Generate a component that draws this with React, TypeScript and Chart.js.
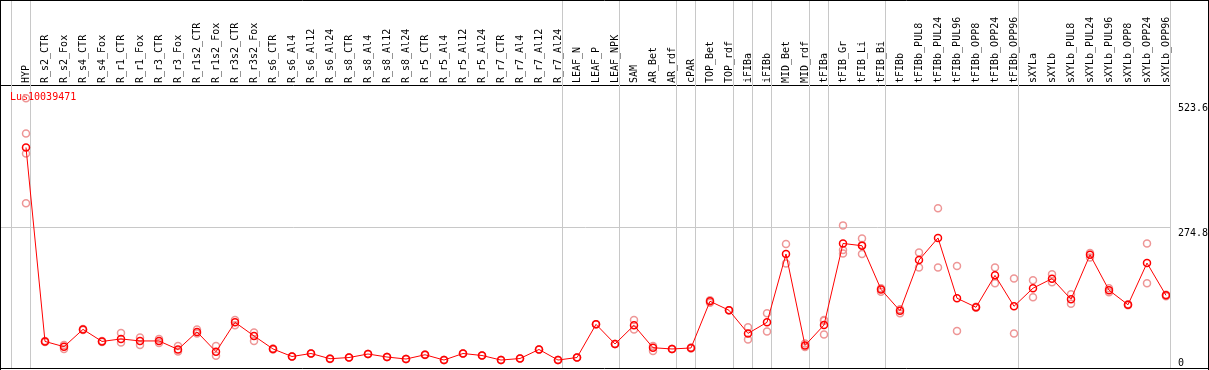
import React, { useEffect, useRef } from "react";
import { Chart, registerables } from "chart.js";

Chart.register(...registerables);

const chartTitle = "Lus10039471";

const categories = [
  "HYP", "R_s2_CTR", "R_s2_Fox", "R_s4_CTR", "R_s4_Fox", "R_r1_CTR", "R_r1_Fox", "R_r3_CTR", "R_r3_Fox",
  "R_r1s2_CTR", "R_r1s2_Fox", "R_r3s2_CTR", "R_r3s2_Fox", "R_s6_CTR", "R_s6_Al4", "R_s6_Al12", "R_s6_Al24",
  "R_s8_CTR", "R_s8_Al4", "R_s8_Al12", "R_s8_Al24", "R_r5_CTR", "R_r5_Al4", "R_r5_Al12", "R_r5_Al24",
  "R_r7_CTR", "R_r7_Al4", "R_r7_Al12", "R_r7_Al24", "LEAF_N", "LEAF_P", "LEAF_NPK", "SAM", "AR_Bet", "AR_rdf",
  "cPAR", "TOP_Bet", "TOP_rdf", "iFIBa", "iFIBb", "MID_Bet", "MID_rdf", "tFIBa", "tFIB_Gr", "tFIB_Li", "tFIB_Bi",
  "tFIBb", "tFIBb_PUL8", "tFIBb_PUL24", "tFIBb_PUL96", "tFIBb_OPP8", "tFIBb_OPP24", "tFIBb_OPP96",
  "sXYLa", "sXYLb", "sXYLb_PUL8", "sXYLb_PUL24", "sXYLb_PUL96", "sXYLb_OPP8", "sXYLb_OPP24", "sXYLb_OPP96",
];

const meanValues = [
  435, 49, 38.5, 73, 49, 54, 50, 50, 33, 68,
  28.5, 87, 60, 34, 19, 25, 14.6, 17, 24, 18,
  14, 22.5, 12, 25, 21, 12, 15, 33, 12, 17,
  83, 44, 81, 36.5, 34, 36, 129, 111, 65, 87,
  223, 41, 81.6, 244, 239.5, 152.6, 110, 211, 255, 135,
  117, 180.5, 119, 155, 174, 133, 221.6, 151, 122, 205, 140.7,
];

const replicate1 = [
  533, 48, 42, 72, 48, 66, 57, 54, 40, 73,
  40, 91.5, 67, 33, 19, 25, 15, 17, 24, 18,
  14, 22, 12, 25, 21, 12, 15, 33, 12, 17,
  83, 44, 91.5, 40, 34, 37, 131, 111, 77, 105,
  243, 45, 91.5, 280, 254, 148, 105, 226, 314, 199,
  116, 196, 174.5, 170.6, 182.5, 143, 225, 155, 121, 244, 142,
];

const replicate2 = [
  463, 50, 34, 74, 50, 47, 42, 46, 29, 65,
  20.6, 81, 50, 35, 19, 25, 14, 17, 24, 18,
  14, 23, 12, 25, 21, 12, 15, 33, 12, 17,
  83, 44, 73, 30, 34, 35, 126, 111, 53, 69,
  204, 38, 63, 231, 223, 155, 113, 196, 196, 70,
  118, 164.6, 65, 137, 167, 124, 216, 147, 123, 165, 139,
];

const replicate3 = [
  423, null, null, null, null, null, null, null, null, null,
  null, null, null, null, null, null, null, null, null, null,
  null, null, null, null, null, null, null, null, null, null,
  null, null, null, null, null, null, null, null, null, null,
  null, null, 90, 224, 241, null, null, null, null, null,
  null, null, null, null, null, null, null, null, null, null, null,
];

const replicate4 = [
  324, null, null, null, null, null, null, null, null, null,
  null, null, null, null, null, null, null, null, null, null,
  null, null, null, null, null, null, null, null, null, null,
  null, null, null, null, null, null, null, null, null, null,
  null, null, null, null, null, null, null, null, null, null,
  null, null, null, null, null, null, null, null, null, null, null,
];

const yTickValues = [0, 274.8, 523.6];
const gridValue = 274.8;

// category indices after which a grey separator is drawn
const groupEnds = [-1, 0, 28, 31, 34, 35, 37, 38, 39, 41, 42, 45, 52, 60];

const FONT = "DejaVu Sans Mono";

export default function App() {
  const ref = useRef<HTMLCanvasElement | null>(null);

  useEffect(() => {
    document.body.style.margin = "0";
    const canvas = ref.current;
    if (!canvas) return;

    const toPoints = (arr: (number | null)[]) =>
      arr
        .map((v, i) => ({ x: i, y: v }))
        .filter((p) => p.y !== null) as { x: number; y: number }[];

    const repColor = "rgb(238,150,150)";
    const repDataset = (arr: (number | null)[]) => ({
      data: toPoints(arr),
      showLine: false,
      borderColor: repColor,
      pointBorderColor: repColor,
      pointBackgroundColor: "rgba(0,0,0,0)",
      pointRadius: 3.5,
      pointBorderWidth: 1.5,
      order: 1,
    });

    const sepOffset = 0.22;

    const framePlugin = {
      id: "frame",
      beforeDatasetsDraw(chart: any) {
        const { ctx, chartArea } = chart;
        const xs = chart.scales.x;
        ctx.save();
        ctx.strokeStyle = "#c8c8c8";
        ctx.lineWidth = 1;
        groupEnds.forEach((g) => {
          const px = Math.round(xs.getPixelForValue(g + sepOffset)) + 0.5;
          ctx.beginPath();
          ctx.moveTo(px, 0);
          ctx.lineTo(px, chartArea.bottom);
          ctx.stroke();
        });
        ctx.fillStyle = "#ff0000";
        ctx.font = `10px "${FONT}"`;
        ctx.textBaseline = "top";
        ctx.textAlign = "left";
        ctx.fillText(chartTitle, 10, 92);
        ctx.restore();
      },
      afterDraw(chart: any) {
        const { ctx, width, height, chartArea } = chart;
        const ys = chart.scales.y;
        ctx.save();
        // y-axis value labels (top of text at the value, kept inside the plot)
        ctx.fillStyle = "#000";
        ctx.font = `10px "${FONT}"`;
        ctx.textBaseline = "top";
        ctx.textAlign = "left";
        yTickValues.forEach((v) => {
          const py = ys.getPixelForValue(v);
          const top = Math.min(py, chartArea.bottom - 11);
          ctx.fillText(String(v), chartArea.right + 8, top);
        });
        ctx.strokeStyle = "#000";
        ctx.lineWidth = 1;
        ctx.beginPath();
        ctx.moveTo(0, 0.5);
        ctx.lineTo(width, 0.5);
        ctx.moveTo(0.5, 0);
        ctx.lineTo(0.5, height);
        ctx.moveTo(0, height - 1.5);
        ctx.lineTo(width, height - 1.5);
        ctx.moveTo(width - 0.5, 0);
        ctx.lineTo(width - 0.5, height);
        ctx.stroke();
        ctx.restore();
      },
    };

    const yMin = -5.85;
    const yMax = 559.4;

    const chart = new Chart(canvas, {
      type: "line",
      data: {
        datasets: [
          {
            data: toPoints(meanValues),
            borderColor: "#ff0000",
            borderWidth: 1,
            pointBorderColor: "#ff0000",
            pointBackgroundColor: "rgba(0,0,0,0)",
            pointRadius: 3.5,
            pointBorderWidth: 1.5,
            tension: 0,
            order: 0,
          },
          repDataset(replicate1),
          repDataset(replicate2),
          repDataset(replicate3),
          repDataset(replicate4),
        ] as any,
      },
      options: {
        animation: false,
        responsive: false,
        maintainAspectRatio: false,
        layout: { autoPadding: false, padding: { left: 1, right: 39, top: 0, bottom: 1 } },
        plugins: {
          legend: { display: false },
          tooltip: { enabled: false },
          title: { display: false },
        },
        scales: {
          x: {
            type: "linear",
            position: "top",
            min: -25 / 19,
            max: 60 + 4 / 19,
            afterBuildTicks: (s: any) => {
              s.ticks = categories.map((_, i) => ({ value: i }));
            },
            afterFit: (s: any) => {
              s.height = 85;
              s.paddingLeft = 0;
              s.paddingRight = 0;
            },
            grid: { display: false, drawTicks: false },
            border: { display: true, color: "#000", width: 1 },
            ticks: {
              autoSkip: false,
              minRotation: 90,
              maxRotation: 90,
              padding: 2,
              labelOffset: 12,
              color: "#000",
              font: { family: FONT, size: 10 },
              callback: (v: any) => categories[v] ?? "",
            },
          },
          y: {
            type: "linear",
            position: "right",
            min: yMin,
            max: yMax,
            afterBuildTicks: (s: any) => {
              s.ticks = yTickValues.map((v) => ({ value: v }));
            },
            afterFit: (s: any) => {
              s.width = 0;
              s.paddingTop = 0;
              s.paddingBottom = 0;
            },
            grid: {
              drawTicks: false,
              lineWidth: 1,
              color: (c: any) => (c.tick && c.tick.value === gridValue ? "#c8c8c8" : "rgba(0,0,0,0)"),
            },
            border: { display: false },
            ticks: { display: false },
          },
        },
      } as any,
      plugins: [framePlugin],
    });

    return () => chart.destroy();
  }, []);

  return (
    <div style={{ width: 1209, height: 370 }}>
      <canvas ref={ref} width={1209} height={370} style={{ display: "block" }} />
    </div>
  );
}
